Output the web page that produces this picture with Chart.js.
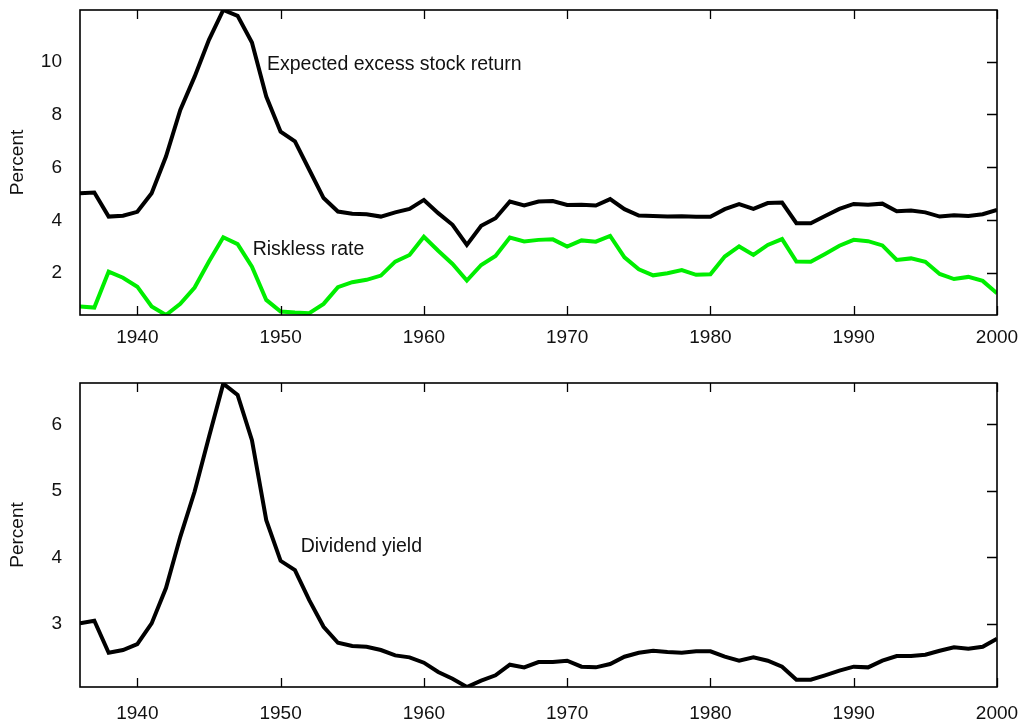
<!DOCTYPE html>
<html><head><meta charset="utf-8">
<script src="https://cdn.jsdelivr.net/npm/chart.js@4/dist/chart.umd.min.js"></script>
<style>
html,body{margin:0;padding:0;background:#fff;overflow:hidden;}
#w1{position:absolute;left:0;top:0;width:1022px;height:360px;}
#w2{position:absolute;left:0;top:360px;width:1022px;height:362px;}
</style></head><body>
<div id="w1"><canvas id="c1"></canvas></div>
<div id="w2"><canvas id="c2"></canvas></div>
<script>
const years = [1936,1937,1938,1939,1940,1941,1942,1943,1944,1945,
  1946,1947,1948,1949,1950,1951,1952,1953,1954,1955,
  1956,1957,1958,1959,1960,1961,1962,1963,1964,1965,
  1966,1967,1968,1969,1970,1971,1972,1973,1974,1975,
  1976,1977,1978,1979,1980,1981,1982,1983,1984,1985,
  1986,1987,1988,1989,1990,1991,1992,1993,1994,1995,
  1996,1997,1998,1999,2000];

const expectedExcessReturn = [5.02,5.05,4.14,4.17,4.32,5.02,6.41,8.17,9.43,10.82,
  11.95,11.73,10.72,8.68,7.35,6.98,5.91,4.84,4.33,4.25,
  4.23,4.14,4.30,4.43,4.77,4.27,3.83,3.07,3.79,4.08,
  4.71,4.56,4.71,4.73,4.58,4.59,4.56,4.80,4.42,4.18,
  4.16,4.14,4.15,4.13,4.13,4.42,4.61,4.43,4.65,4.67,
  3.89,3.89,4.16,4.43,4.62,4.59,4.63,4.34,4.37,4.30,
  4.14,4.19,4.16,4.23,4.39];

const risklessRate = [0.74,0.70,2.06,1.83,1.49,0.74,0.42,0.84,1.46,2.44,
  3.36,3.10,2.25,0.99,0.55,0.51,0.49,0.84,1.47,1.66,
  1.75,1.91,2.44,2.69,3.38,2.85,2.35,1.72,2.31,2.65,
  3.35,3.20,3.26,3.28,3.01,3.24,3.19,3.41,2.60,2.15,
  1.92,2.00,2.12,1.94,1.96,2.63,3.01,2.69,3.07,3.29,
  2.44,2.43,2.73,3.04,3.26,3.21,3.05,2.50,2.56,2.43,
  1.97,1.78,1.86,1.71,1.24];

const dividendYield = [3.01,3.05,2.57,2.61,2.70,3.01,3.54,4.31,4.99,5.81,
  6.61,6.44,5.76,4.56,3.95,3.81,3.36,2.96,2.72,2.67,
  2.66,2.61,2.53,2.50,2.42,2.28,2.18,2.055,2.15,2.23,
  2.39,2.35,2.43,2.43,2.45,2.36,2.35,2.40,2.51,2.57,
  2.60,2.58,2.57,2.59,2.59,2.51,2.45,2.50,2.45,2.36,
  2.165,2.165,2.23,2.30,2.36,2.35,2.45,2.52,2.52,2.54,
  2.60,2.65,2.63,2.66,2.78];

const xTickYears = [1940,1950,1960,1970,1980,1990,2000];
const topYTicks = [2,4,6,8,10];
const bottomYTicks = [3,4,5,6];
const xRange = [1936,2000];
const topYRange = [0.42,11.95];
const bottomYRange = [2.055,6.62];
const yLabel = 'Percent';
const topNotes = [
  {text:'Expected excess stock return', x:1949.05, y:9.69},
  {text:'Riskless rate', x:1948.05, y:2.69}
];
const bottomNotes = [
  {text:'Dividend yield', x:1951.4, y:4.08}
];

const FONT = '"Liberation Sans", Arial, Helvetica, sans-serif';
const TXT = '#111';

function toPts(vals){ return years.map((yr,i)=>({x:yr,y:vals[i]})); }

function framePlugin(notes){
  return {
    id:'frame',
    afterDraw(chart){
      const ctx = chart.ctx, a = chart.chartArea;
      const xs = chart.scales.x, ys = chart.scales.y;
      ctx.save();
      ctx.strokeStyle = '#000';
      ctx.lineWidth = 1.6;
      ctx.strokeRect(a.left, a.top, a.right - a.left, a.bottom - a.top);
      ctx.lineWidth = 1.3;
      ctx.beginPath();
      xs.ticks.forEach(t=>{
        const px = Math.round(xs.getPixelForValue(t.value)) + 0.5;
        ctx.moveTo(px, a.bottom); ctx.lineTo(px, a.bottom - 9);
        ctx.moveTo(px, a.top); ctx.lineTo(px, a.top + 9);
      });
      ys.ticks.forEach(t=>{
        const py = Math.round(ys.getPixelForValue(t.value)) + 0.5;
        ctx.moveTo(a.right, py); ctx.lineTo(a.right - 10, py);
      });
      ctx.stroke();
      ctx.fillStyle = TXT;
      ctx.font = '19px ' + FONT;
      ctx.textAlign = 'center';
      ctx.textBaseline = 'middle';
      ctx.translate(17.5, (a.top + a.bottom)/2);
      ctx.rotate(-Math.PI/2);
      ctx.fillText(yLabel, 0, 0);
      ctx.restore();
      ctx.save();
      ctx.fillStyle = TXT;
      ctx.font = '19.5px ' + FONT;
      ctx.textAlign = 'left';
      ctx.textBaseline = 'alphabetic';
      notes.forEach(n=>{
        ctx.fillText(n.text, xs.getPixelForValue(n.x), ys.getPixelForValue(n.y));
      });
      ctx.restore();
    }
  };
}

function makeChart(id, datasets, yRange, yTicks, pad, xHeight, xPad, notes){
  return new Chart(document.getElementById(id), {
    type:'line',
    data:{datasets},
    options:{
      responsive:true, maintainAspectRatio:false, animation:false,
      layout:{padding:{left:0,right:25,top:pad,bottom:0}},
      plugins:{legend:{display:false}, tooltip:{enabled:false}},
      elements:{point:{radius:0}, line:{tension:0, borderWidth:4, borderJoinStyle:'miter', borderCapStyle:'butt'}},
      scales:{
        x:{type:'linear', min:xRange[0], max:xRange[1],
          grid:{display:false, drawTicks:false}, border:{display:false},
          afterBuildTicks(s){ s.ticks = xTickYears.map(v=>({value:v})); },
          afterFit(s){ s.height = xHeight; s.paddingLeft = 0; s.paddingRight = 0; s.paddingTop = 0; s.paddingBottom = 0; },
          ticks:{padding:xPad, maxRotation:0, autoSkip:false, color:TXT,
            font:{size:19, family:FONT}, callback:v=>String(v)}},
        y:{type:'linear', min:yRange[0], max:yRange[1],
          grid:{display:false, drawTicks:false}, border:{display:false},
          afterBuildTicks(s){ s.ticks = yTicks.map(v=>({value:v})); },
          afterFit(s){ s.width = 80; s.paddingTop = 0; s.paddingBottom = 0; s.paddingLeft = 0; s.paddingRight = 0; },
          ticks:{padding:18, color:TXT, font:{size:19, family:FONT}, callback:v=>String(v)}}
      }
    },
    plugins:[framePlugin(notes)]
  });
}

makeChart('c1', [
  {label:'Expected excess stock return', data:toPts(expectedExcessReturn), borderColor:'#000000'},
  {label:'Riskless rate', data:toPts(risklessRate), borderColor:'#00ee00'}
], topYRange, topYTicks, 10, 45, 11, topNotes);

makeChart('c2', [
  {label:'Dividend yield', data:toPts(dividendYield), borderColor:'#000000'}
], bottomYRange, bottomYTicks, 23, 35, 15, bottomNotes);
</script>
</body></html>
